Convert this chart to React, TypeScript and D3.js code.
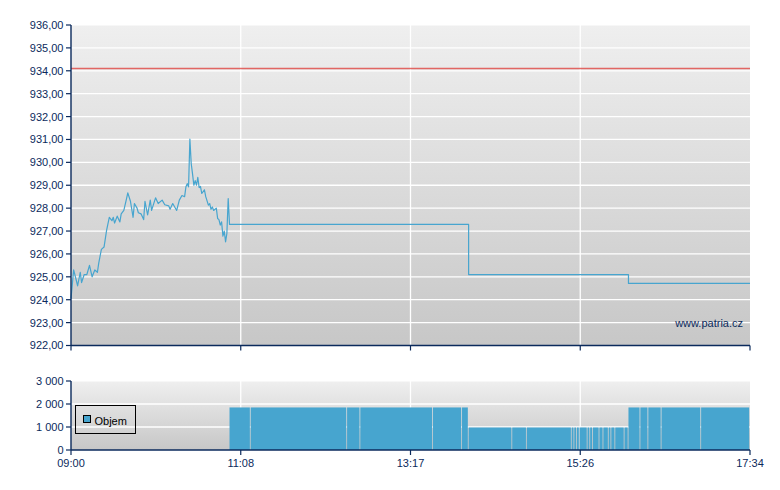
import React from 'react';
import * as d3 from 'd3';

const priceTimes = ["09:00","09:02","09:04","09:05","09:07","09:08","09:10","09:12","09:14","09:16",
  "09:18","09:20","09:21","09:23","09:25","09:27","09:29","09:31","09:32","09:33",
  "09:35","09:37","09:38","09:40","09:42","09:43","09:45","09:47","09:48","09:50",
  "09:51","09:53","09:55","09:56","09:58","10:00","10:01","10:04","10:06","10:09",
  "10:11","10:14","10:15","10:17","10:20","10:22","10:24","10:26","10:27","10:28",
  "10:29","10:30","10:31","10:32","10:33","10:34","10:35","10:36","10:37","10:38",
  "10:39","10:41","10:42","10:44","10:45","10:46","10:47","10:48","10:50","10:51",
  "10:52","10:53","10:54","10:55","10:56","10:57","10:58","10:59","11:00","14:01",
  "14:01","16:02","16:02","17:34"];
const priceValues = [924.05,925.3,924.85,924.6,925.2,924.75,925.1,925.1,925.5,925.0,
  925.3,925.2,925.6,926.2,926.3,927.05,927.6,927.45,927.6,927.35,
  927.65,927.4,927.75,927.9,928.4,928.67,928.3,927.6,928.2,928.0,
  927.8,927.75,927.5,928.3,927.7,928.35,927.9,928.45,928.2,928.35,
  928.15,928.1,927.95,928.2,927.9,928.35,928.55,928.5,928.93,929.07,
  928.93,931.02,929.95,929.5,929.0,929.2,929.0,929.34,928.9,928.95,
  928.64,928.8,928.5,928.13,928.2,927.95,928.05,927.9,928.0,927.55,
  927.5,927.26,927.4,926.78,927.0,926.53,926.9,928.42,927.29,927.29,
  925.10,925.10,924.71,924.71];
const referencePrice = 934.1;

const volumeStarts = ["11:00","11:16","12:29","12:39","13:34","13:56",
  "14:01","14:34","14:45","15:19","15:21","15:23","15:25","15:31","15:33","15:35","15:40","15:43","15:47","15:49","15:52","15:59",
  "16:02","16:11","16:17","16:27","16:57"];
const volumeValues = [1850,1850,1850,1850,1850,1850,
  980,980,980,980,980,980,980,980,980,980,980,980,980,980,980,980,
  1850,1850,1850,1850,1850];

const sessionStart = "09:00";
const sessionEnd = "17:34";
const priceTicks = [922,923,924,925,926,927,928,929,930,931,932,933,934,935,936];
const volumeTicks = [0,1000,2000,3000];
const timeTickLabels = ["09:00","11:08","13:17","15:26","17:34"];
const legendLabel = "Objem";
const watermark = "www.patria.cz";

const toDate = (s: string) => {
  const [h, m] = s.split(':').map(Number);
  return new Date(2020, 0, 1, h, m);
};

const NAVY = "#0b2a5c";
const BLUE = "#47a5cf";
const FONT = "'Liberation Sans', Arial, sans-serif";

export default function App() {
  const left = 71, right = 750;
  const x = d3.scaleTime().domain([toDate(sessionStart), toDate(sessionEnd)]).range([left, right]);
  const yP = d3.scaleLinear().domain([922, 936]).range([345.5, 25]);
  const yV = d3.scaleLinear().domain([0, 3000]).range([450, 381]);

  const t0 = toDate(sessionStart).getTime();
  const t1 = toDate(sessionEnd).getTime();
  const tickDates = timeTickLabels.map((_, i) => new Date(t0 + (i * (t1 - t0)) / 4));

  const pricePts = priceTimes.map((t, i) => [toDate(t), priceValues[i]] as [Date, number]);
  const line = d3.line<[Date, number]>().x(d => x(d[0])).y(d => yP(d[1]));

  const fmtP = (v: number) => d3.format(".2f")(v).replace('.', ',');
  const fmtV = (v: number) => d3.format(",")(v).replace(/,/g, ' ');

  const bars = volumeStarts.map((s, i) => {
    const x0 = x(toDate(s));
    const x1 = x(toDate(i + 1 < volumeStarts.length ? volumeStarts[i + 1] : sessionEnd));
    return { x0, x1, v: volumeValues[i] };
  });

  const pTop = yP(936), pBot = yP(922);
  const vTop = yV(3000), vBot = yV(0);

  return (
    <svg width={780} height={490} style={{ position: 'absolute', left: 0, top: 0, background: '#fff' }}
      fontFamily={FONT}>
      <defs>
        <linearGradient id="bg" x1="0" y1="0" x2="0" y2="1">
          <stop offset="0%" stopColor="#efefef" />
          <stop offset="100%" stopColor="#c7c7c7" />
        </linearGradient>
      </defs>

      {/* price panel */}
      <rect x={left} y={pTop} width={right - left} height={pBot - pTop} fill="url(#bg)" />
      {priceTicks.slice(1, -1).map(v => (
        <line key={v} x1={left} x2={right} y1={yP(v)} y2={yP(v)} stroke="#fff" strokeWidth={1.3} />
      ))}
      <line x1={left} x2={right} y1={pTop + 0.5} y2={pTop + 0.5} stroke="#f7f7f7" strokeWidth={1} />
      {tickDates.slice(1, -1).map((d, i) => (
        <line key={i} x1={x(d)} x2={x(d)} y1={pTop} y2={pBot} stroke="#fff" strokeWidth={1.3} />
      ))}
      <line x1={left} x2={right} y1={yP(referencePrice)} y2={yP(referencePrice)} stroke="#e0504c" strokeWidth={1.3} opacity={0.85} />
      <path d={line(pricePts) || ''} fill="none" stroke={BLUE} strokeWidth={1.2} strokeLinejoin="round" />
      <text x={743} y={327} textAnchor="end" fontSize={11} fill={NAVY}>{watermark}</text>
      {/* price axes */}
      <line x1={left} x2={left} y1={pTop} y2={pBot} stroke={NAVY} strokeWidth={1.4} />
      <line x1={left} x2={right} y1={pBot} y2={pBot} stroke={NAVY} strokeWidth={1.4} />
      {priceTicks.map(v => (
        <g key={v}>
          <line x1={left - 5} x2={left} y1={yP(v)} y2={yP(v)} stroke={NAVY} strokeWidth={1.2} />
          <text x={63.5} y={yP(v)} dy="0.36em" textAnchor="end" fontSize={11} fill={NAVY}>{fmtP(v)}</text>
        </g>
      ))}
      {tickDates.map((d, i) => (
        <line key={i} x1={x(d)} x2={x(d)} y1={pBot} y2={pBot + 5} stroke={NAVY} strokeWidth={1.2} />
      ))}

      {/* volume panel */}
      <rect x={left} y={vTop} width={right - left} height={vBot - vTop} fill="url(#bg)" />
      {volumeTicks.slice(1, -1).map(v => (
        <line key={v} x1={left} x2={right} y1={yV(v)} y2={yV(v)} stroke="#fff" strokeWidth={1.3} />
      ))}
      <line x1={left} x2={right} y1={vTop + 0.5} y2={vTop + 0.5} stroke="#f7f7f7" strokeWidth={1} />
      {tickDates.slice(1, -1).map((d, i) => (
        <line key={i} x1={x(d)} x2={x(d)} y1={vTop} y2={vBot} stroke="#fff" strokeWidth={1.3} />
      ))}
      {bars.map((b, i) => (
        <rect key={i} x={b.x0} y={yV(b.v)} width={Math.max(0.5, b.x1 - b.x0 - 0.8)} height={vBot - yV(b.v)} fill={BLUE} />
      ))}
      {/* legend */}
      <rect x={75.5} y={405.5} width={60} height={28} fill="none" stroke="#000" strokeWidth={1} />
      <rect x={83.5} y={415.5} width={7} height={7} fill={BLUE} stroke="#000" strokeWidth={1} />
      <text x={94.5} y={424.5} fontSize={11} fill="#000">{legendLabel}</text>
      {/* volume axes */}
      <line x1={left} x2={left} y1={vTop} y2={vBot} stroke={NAVY} strokeWidth={1.4} />
      <line x1={left} x2={right} y1={vBot} y2={vBot} stroke={NAVY} strokeWidth={1.4} />
      {volumeTicks.map(v => (
        <g key={v}>
          <line x1={left - 5} x2={left} y1={yV(v)} y2={yV(v)} stroke={NAVY} strokeWidth={1.2} />
          <text x={63.5} y={yV(v)} dy="0.36em" textAnchor="end" fontSize={11} fill={NAVY}>{fmtV(v)}</text>
        </g>
      ))}
      {tickDates.map((d, i) => (
        <g key={i}>
          <line x1={x(d)} x2={x(d)} y1={vBot} y2={vBot + 5} stroke={NAVY} strokeWidth={1.2} />
          <text x={x(d)} y={467} textAnchor="middle" fontSize={11} fill={NAVY}>{timeTickLabels[i]}</text>
        </g>
      ))}
    </svg>
  );
}
